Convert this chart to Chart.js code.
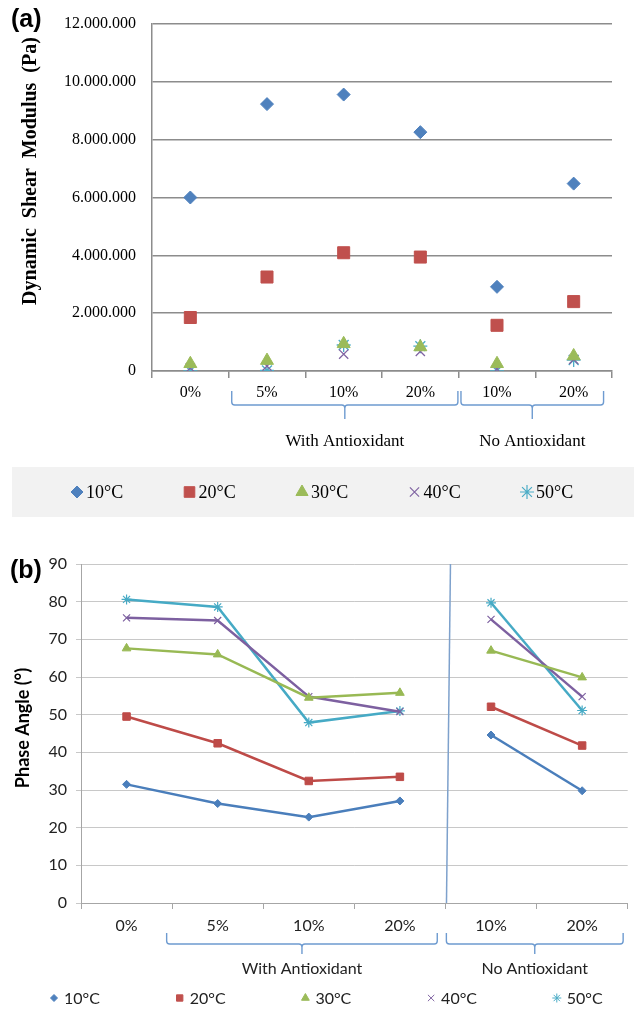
<!DOCTYPE html>
<html><head><meta charset="utf-8">
<script src="https://cdn.jsdelivr.net/npm/chart.js@4/dist/chart.umd.min.js"></script>
<style>
html,body{margin:0;padding:0;background:#fff;width:634px;height:1011px;overflow:hidden}
#wa{position:absolute;left:0;top:0;width:634px;height:520px}
#wb{position:absolute;left:0;top:520px;width:634px;height:491px}
</style></head><body>
<div id="wa"><canvas id="ca" width="634" height="520"></canvas></div>
<div id="wb"><canvas id="cb" width="634" height="491"></canvas></div>
<script>
// ---------- data ----------
const categories = ['0%', '5%', '10%', '20%', '10%', '20%'];
const groupNames = ['With Antioxidant', 'No Antioxidant'];
const groupFirst = [1, 4];
const groupLast = [3, 5];
const seriesNames = ['10°C', '20°C', '30°C', '40°C', '50°C'];

// (a) Dynamic shear modulus, Pa
const modulus10 = [6000000, 9230000, 9560000, 8260000, 2910000, 6480000];
const modulus20 = [1850000, 3250000, 4090000, 3940000, 1580000, 2400000];
const modulus30 = [250000, 360000, 940000, 830000, 250000, 520000];
const modulus40 = [110000, 170000, 580000, 680000, 60000, 400000];
const modulus50 = [5000, 20000, 900000, 860000, 5000, 380000];
const modulusTicks = [0, 2000000, 4000000, 6000000, 8000000, 10000000, 12000000];

// (b) Phase angle, degrees
const phase10 = [31.5, 26.4, 22.8, 27.1, 44.6, 29.8];
const phase20 = [49.5, 42.4, 32.4, 33.5, 52.1, 41.8];
const phase30 = [67.6, 66.0, 54.5, 55.8, 67.0, 59.9];
const phase40 = [75.7, 75.0, 54.8, 50.8, 75.3, 54.8];
const phase50 = [80.6, 78.6, 47.9, 51.0, 79.7, 51.1];
const phaseTicks = [0, 10, 20, 30, 40, 50, 60, 70, 80, 90];

// ---------- styles ----------
const colors = ['#4F81BD', '#C0504D', '#9BBB59', '#8064A2', '#4BACC6'];
const lineColors = ['#4A7EBB', '#BE4B48', '#98B954', '#7D60A0', '#46AAC5'];
const styles = ['rectRot', 'rect', 'triangle', 'crossRot', 'star'];
const radiiA = [6.5, 8.5, 7.5, 6.5, 7];
const radiiB = [4, 5.3, 5, 5, 5];
const serif = "'Liberation Serif', 'Times New Roman', serif";
const sans = "Lato, 'Liberation Sans', sans-serif";
const braceColor = '#6E9BD0';

function fmtDots(v) { return String(v).replace(/\B(?=(\d{3})+(?!\d))/g, '.'); }

function brace(ctx, x1, x2, y1, y2, y3) {
  const r = 3, xm = (x1 + x2) / 2;
  ctx.save();
  ctx.strokeStyle = braceColor; ctx.lineWidth = 1.4;
  ctx.beginPath();
  ctx.moveTo(x1, y1); ctx.lineTo(x1, y2 - r);
  ctx.quadraticCurveTo(x1, y2, x1 + r, y2);
  ctx.lineTo(xm - r, y2);
  ctx.quadraticCurveTo(xm, y2, xm, y2 + r);
  ctx.lineTo(xm, y3);
  ctx.moveTo(xm, y2 + r);
  ctx.quadraticCurveTo(xm, y2, xm + r, y2);
  ctx.lineTo(x2 - r, y2);
  ctx.quadraticCurveTo(x2, y2, x2, y2 - r);
  ctx.lineTo(x2, y1);
  ctx.stroke();
  ctx.restore();
}

function drawMarker(ctx, i, x, y, r, lw) {
  ctx.save();
  ctx.fillStyle = colors[i]; ctx.strokeStyle = colors[i];
  ctx.lineWidth = lw;
  Chart.helpers.drawPoint(ctx, { pointStyle: styles[i], radius: r, rotation: 0, borderWidth: lw }, x, y);
  ctx.restore();
}

// ---------- chart (a) ----------
const modSeries = [modulus10, modulus20, modulus30, modulus40, modulus50];
const decoA = {
  id: 'decoA',
  afterDraw(chart) {
    const ctx = chart.ctx, xs = chart.scales.x;
    const cw = xs.getPixelForValue(1) - xs.getPixelForValue(0);
    ctx.save();
    // panel letter
    ctx.fillStyle = '#000'; ctx.font = "bold 25px 'Liberation Sans', Arial, sans-serif";
    ctx.textBaseline = 'middle'; ctx.textAlign = 'left';
    ctx.fillText('(a)', 11, 20);
    // y title
    ctx.save();
    ctx.translate(31, 171); ctx.rotate(-Math.PI / 2);
    ctx.textAlign = 'center'; ctx.font = 'bold 20px ' + serif;
    ctx.fillText('Dynamic  Shear  Modulus  (Pa)', 0, 0);
    ctx.restore();
    // group braces
    const ext = [[-0.46, 0.49], [-0.47, 0.39]];
    ctx.font = '17px ' + serif; ctx.textAlign = 'center';
    for (let g = 0; g < 2; g++) {
      const x1 = xs.getPixelForValue(groupFirst[g]) + ext[g][0] * cw;
      const x2 = xs.getPixelForValue(groupLast[g]) + ext[g][1] * cw;
      brace(ctx, x1, x2, 391, 405, 419);
      ctx.fillStyle = '#000';
      ctx.fillText(groupNames[g], (x1 + x2) / 2, 442);
    }
    // legend
    ctx.fillStyle = '#F2F2F2';
    ctx.fillRect(12, 467, 622, 50);
    ctx.font = '18px ' + serif; ctx.textAlign = 'left';
    chart.data.datasets.forEach((ds, i) => {
      const mx = 77 + i * 112.5;
      drawMarker(ctx, i, mx, 492, [6, 7.5, 7, 6.5, 7][i], i >= 3 ? 1.2 : 1);
      ctx.fillStyle = '#000';
      ctx.fillText(ds.label, mx + 9, 493);
    });
    ctx.restore();
  }
};

new Chart(document.getElementById('ca'), {
  type: 'line',
  data: {
    labels: categories,
    datasets: modSeries.map((d, i) => ({
      label: seriesNames[i], data: d, showLine: false,
      pointStyle: styles[i], pointRadius: radiiA[i], pointHoverRadius: radiiA[i],
      backgroundColor: colors[i], borderColor: colors[i],
      pointBorderWidth: i >= 3 ? 1.3 : 1
    }))
  },
  options: {
    responsive: false, animation: false, devicePixelRatio: 1,
    layout: { padding: { top: 17, right: 22, left: 0, bottom: 0 } },
    plugins: { legend: { display: false }, tooltip: { enabled: false } },
    scales: {
      x: {
        type: 'category', offset: true,
        grid: { drawOnChartArea: false, offset: true, tickLength: 7, color: '#8C8C8C', lineWidth: 1.5 },
        border: { color: '#8C8C8C', width: 1.5 },
        ticks: { font: { family: serif, size: 16 }, color: '#000', padding: 5, maxRotation: 0, autoSkip: false },
        afterFit: s => { s.height = 149; }
      },
      y: {
        min: 0, max: 12000000,
        afterBuildTicks: s => { s.ticks = modulusTicks.map(v => ({ value: v })); },
        grid: { color: '#8C8C8C', lineWidth: 1.5, drawTicks: false },
        border: { color: '#8C8C8C', width: 1.5 },
        ticks: { font: { family: serif, size: 16, lineHeight: 1 }, color: '#000', padding: 16, callback: v => fmtDots(v) },
        afterFit: s => { s.width = 152; }
      }
    }
  },
  plugins: [decoA]
});

// ---------- chart (b) ----------
const phaseSeries = [phase10, phase20, phase30, phase40, phase50];
const decoB = {
  id: 'decoB',
  beforeDatasetsDraw(chart) {
    const ctx = chart.ctx, xs = chart.scales.x, a = chart.chartArea;
    const b = (xs.getPixelForValue(3) + xs.getPixelForValue(4)) / 2;
    ctx.save();
    ctx.strokeStyle = '#7EA1CC'; ctx.lineWidth = 1.5;
    ctx.beginPath(); ctx.moveTo(b + 5, a.top); ctx.lineTo(b + 1, a.bottom); ctx.stroke();
    ctx.restore();
  },
  afterDraw(chart) {
    const ctx = chart.ctx, xs = chart.scales.x;
    const cw = xs.getPixelForValue(1) - xs.getPixelForValue(0);
    ctx.save();
    ctx.fillStyle = '#000'; ctx.textBaseline = 'middle'; ctx.textAlign = 'left';
    ctx.font = "bold 25px 'Liberation Sans', Arial, sans-serif";
    ctx.fillText('(b)', 10, 51);
    ctx.save();
    ctx.translate(23, 208); ctx.rotate(-Math.PI / 2);
    ctx.textAlign = 'center'; ctx.font = 'bold 18px ' + sans;
    ctx.fillText('Phase Angle (°)', 0, 0);
    ctx.restore();
    const ext = [[-0.56, 0.41], [-0.49, 0.45]];
    ctx.font = '16px ' + sans; ctx.textAlign = 'center';
    for (let g = 0; g < 2; g++) {
      const x1 = xs.getPixelForValue(groupFirst[g]) + ext[g][0] * cw;
      const x2 = xs.getPixelForValue(groupLast[g]) + ext[g][1] * cw;
      brace(ctx, x1, x2, 413, 424, 434);
      ctx.fillStyle = '#222';
      ctx.fillText(groupNames[g], (x1 + x2) / 2, 449);
    }
    ctx.font = '16px ' + sans; ctx.textAlign = 'left';
    chart.data.datasets.forEach((ds, i) => {
      const mx = 54 + i * 125.7;
      drawMarker(ctx, i, mx, 478, [3.5, 4.5, 4.5, 4.5, 4.5][i], 1);
      ctx.fillStyle = '#222';
      ctx.fillText(ds.label, mx + 10, 479);
    });
    ctx.restore();
  }
};

new Chart(document.getElementById('cb'), {
  type: 'line',
  data: {
    labels: categories,
    datasets: phaseSeries.map((d, i) => ({
      label: seriesNames[i], data: d,
      borderColor: lineColors[i], backgroundColor: lineColors[i], borderWidth: 2.5,
      pointStyle: styles[i], pointRadius: radiiB[i], pointHoverRadius: radiiB[i],
      pointBorderWidth: i >= 3 ? 1.2 : 1, tension: 0,
      segment: { borderColor: c => c.p0DataIndex === 3 ? 'rgba(0,0,0,0)' : undefined }
    }))
  },
  options: {
    responsive: false, animation: false, devicePixelRatio: 1,
    layout: { padding: { top: 44, right: 1, left: 0, bottom: 0 } },
    plugins: { legend: { display: false }, tooltip: { enabled: false } },
    scales: {
      x: {
        type: 'category', offset: true,
        grid: { drawOnChartArea: false, offset: true, tickLength: 6, color: '#A6A6A6' },
        border: { color: '#A6A6A6' },
        ticks: { font: { family: sans, size: 16 }, color: '#222', padding: 7, maxRotation: 0, autoSkip: false },
        afterFit: s => { s.height = 108; }
      },
      y: {
        min: 0, max: 90,
        afterBuildTicks: s => { s.ticks = phaseTicks.map(v => ({ value: v })); },
        grid: { color: '#C8C8C8', tickLength: 5 },
        border: { color: '#A6A6A6' },
        ticks: { font: { family: sans, size: 16 }, color: '#222', padding: 9 },
        afterFit: s => { s.width = 81; }
      }
    }
  },
  plugins: [decoB]
});
</script>
</body></html>
